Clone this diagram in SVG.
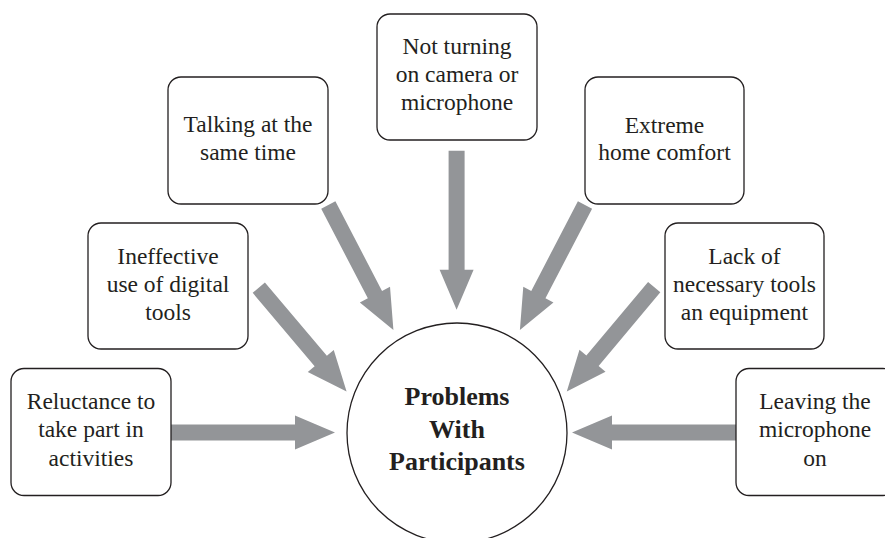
<svg xmlns="http://www.w3.org/2000/svg" width="885" height="538" viewBox="0 0 885 538">
<style>
.box{fill:#fff;stroke:#231f20;stroke-width:1.3}
.t{font-size:23.5px;fill:#231f20;text-anchor:middle}
.b{font-size:26px;font-weight:bold;fill:#231f20;text-anchor:middle}
.arr{fill:#939598}
</style>
<rect width="885" height="538" fill="#fff"/>
<g id="connectors">
<path class="arr" transform="translate(171,432.5)" d="M0,-8H124V-17L164,0L124,17V8H0Z"/>
<path class="arr" transform="translate(258.8,287.7) rotate(49.8)" d="M0,-8H96V-17L136,0L96,17V8H0Z"/>
<path class="arr" transform="translate(328.3,205) rotate(62.5)" d="M0,-8H101V-17L141,0L101,17V8H0Z"/>
<path class="arr" transform="translate(456.6,150.7) rotate(90)" d="M0,-8H119V-17L159,0L119,17V8H0Z"/>
<path class="arr" transform="translate(585,205) rotate(117.5)" d="M0,-8H101V-17L141,0L101,17V8H0Z"/>
<path class="arr" transform="translate(654.2,287.2) rotate(130)" d="M0,-8H96V-17L136,0L96,17V8H0Z"/>
<path class="arr" transform="translate(736,432.5) rotate(180)" d="M0,-8H124V-17L164,0L124,17V8H0Z"/>
</g>
<g font-family="Liberation Serif, DejaVu Serif, serif">
<g id="center">
<circle cx="457" cy="433" r="110" fill="#fff" stroke="#231f20" stroke-width="1.3"/>
<text class="b" x="457" y="405">Problems</text>
<text class="b" x="457" y="438">With</text>
<text class="b" x="457" y="470">Participants</text>
</g>
<g id="reluctance">
<rect class="box" x="11" y="368.5" width="160" height="127" rx="13"/>
<text class="t" x="91" y="408.5">Reluctance to</text>
<text class="t" x="91" y="437">take part in</text>
<text class="t" x="91" y="465.5">activities</text>
</g>
<g id="ineffective">
<rect class="box" x="88" y="223" width="160" height="126" rx="13"/>
<text class="t" x="168" y="264">Ineffective</text>
<text class="t" x="168" y="292">use of digital</text>
<text class="t" x="168" y="319.5">tools</text>
</g>
<g id="talking">
<rect class="box" x="168" y="77" width="160" height="127" rx="13"/>
<text class="t" x="248" y="132">Talking at the</text>
<text class="t" x="248" y="159.5">same time</text>
</g>
<g id="notturning">
<rect class="box" x="377" y="14" width="160" height="126" rx="13"/>
<text class="t" x="457" y="53.5">Not turning</text>
<text class="t" x="457" y="82">on camera or</text>
<text class="t" x="457" y="110">microphone</text>
</g>
<g id="extreme">
<rect class="box" x="585" y="77" width="159" height="127" rx="13"/>
<text class="t" x="664.5" y="133">Extreme</text>
<text class="t" x="664.5" y="160">home comfort</text>
</g>
<g id="lack">
<rect class="box" x="665" y="223" width="159" height="126" rx="13"/>
<text class="t" x="744.5" y="263.5">Lack of</text>
<text class="t" x="744.5" y="292">necessary tools</text>
<text class="t" x="744.5" y="319.5">an equipment</text>
</g>
<g id="leaving">
<rect class="box" x="736" y="368.5" width="160" height="127" rx="13"/>
<text class="t" x="815" y="409">Leaving the</text>
<text class="t" x="815" y="437">microphone</text>
<text class="t" x="815" y="465.5">on</text>
</g>
</g>
</svg>
